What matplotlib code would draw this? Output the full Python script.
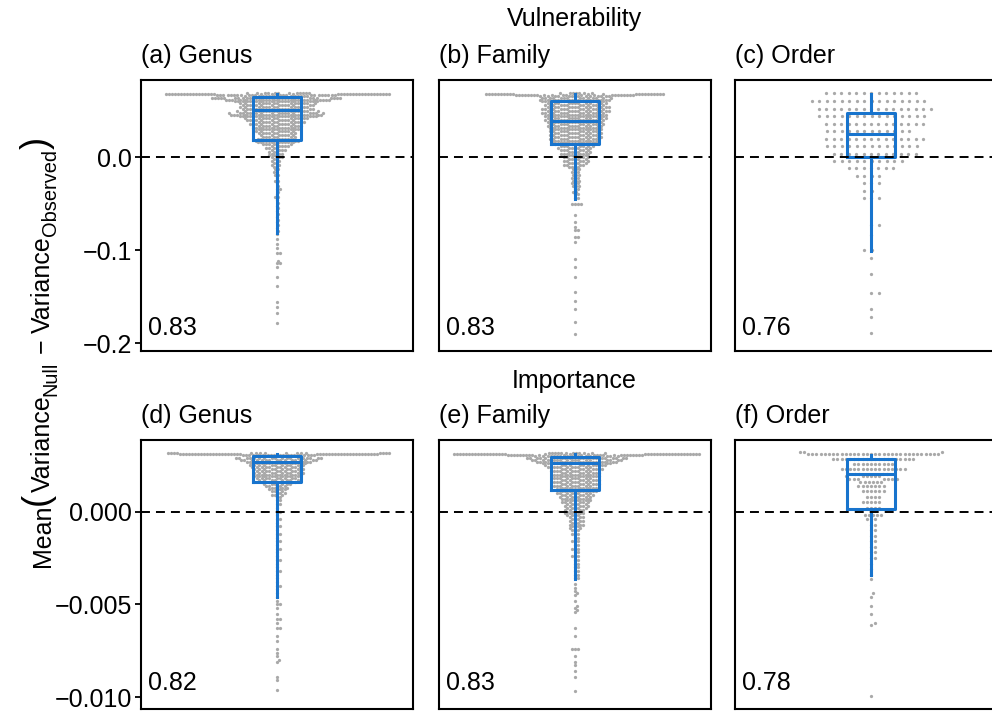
import numpy as np
import matplotlib
matplotlib.use("Agg")
import matplotlib.pyplot as plt

# values: each level value with the number of
# points drawn at (roughly) that level
gen_vul_vals = [0.069, 0.068, 0.067, 0.066, 0.064, 0.062, 0.060, 0.058, 0.056, 0.054,
                0.052, 0.050, 0.048, 0.046, 0.044, 0.042, 0.040, 0.038, 0.036, 0.034,
                0.032, 0.030, 0.028, 0.026, 0.024, 0.022, 0.020, 0.018, 0.016, 0.014,
                0.012, 0.010, 0.008, 0.006, 0.004, 0.002, 0.000, -0.002, -0.004, -0.006,
                -0.008, -0.010, -0.013, -0.016, -0.019, -0.022, -0.025, -0.028, -0.031, -0.034,
                -0.037, -0.040, -0.043, -0.046, -0.049, -0.052, -0.055, -0.058, -0.061, -0.064,
                -0.067, -0.070, -0.073, -0.076, -0.079, -0.082, -0.0875, -0.093, -0.098, -0.103,
                -0.111, -0.114, -0.118, -0.129, -0.138, -0.156, -0.161, -0.167, -0.178]
gen_vul_n = [12, 38, 22, 13, 26, 22, 17, 15, 14, 14,
             14, 15, 18, 18, 16, 13, 11, 11, 10, 10,
             9, 9, 8, 8, 7, 7, 8, 9, 8, 6,
             5, 4, 4, 3, 3, 3, 3, 2, 2, 2,
             2, 2, 2, 2, 2, 1, 2, 1, 1, 2,
             1, 1, 2, 1, 1, 1, 1, 1, 1, 1,
             1, 1, 1, 1, 1, 1, 1, 1, 1, 2,
             1, 2, 1, 1, 1, 1, 1, 1, 1]

fam_vul_vals = [0.069, 0.068, 0.067, 0.066, 0.064, 0.062, 0.060, 0.058, 0.056, 0.054,
                0.052, 0.050, 0.048, 0.046, 0.044, 0.042, 0.040, 0.038, 0.036, 0.034,
                0.032, 0.030, 0.028, 0.026, 0.024, 0.022, 0.020, 0.018, 0.016, 0.014,
                0.012, 0.010, 0.008, 0.006, 0.004, 0.002, 0.000, -0.002, -0.004, -0.006,
                -0.008, -0.010, -0.013, -0.016, -0.019, -0.022, -0.025, -0.028, -0.031, -0.034,
                -0.037, -0.040, -0.044, -0.0505, -0.0624, -0.0695, -0.0749, -0.0785, -0.0857, -0.091,
                -0.109, -0.118, -0.129, -0.145, -0.154, -0.163, -0.177, -0.190]
fam_vul_n = [7, 22, 22, 14, 14, 14, 13, 12, 12, 13,
             13, 13, 13, 12, 12, 12, 12, 11, 11, 11,
             10, 10, 10, 10, 10, 10, 10, 9, 9, 8,
             7, 7, 6, 6, 6, 5, 5, 5, 5, 5,
             4, 4, 3, 3, 3, 3, 3, 3, 3, 2,
             2, 2, 2, 4, 1, 1, 1, 2, 2, 1,
             1, 1, 1, 1, 1, 1, 1, 1]

ord_vul_vals = [0.069, 0.060, 0.052, 0.044, 0.036, 0.028, 0.020, 0.012, 0.004, -0.004,
                -0.012, -0.020, -0.028, -0.036, -0.044, -0.0731, -0.0839, -0.100, -0.108, -0.126,
                -0.146, -0.163, -0.172, -0.189]
ord_vul_n = [13, 16, 16, 15, 14, 12, 14, 13, 12, 10,
             7, 4, 3, 2, 3, 2, 1, 2, 1, 1,
             2, 1, 1, 1]

gen_imp_vals = [0.00315, 0.0031, 0.00305, 0.0029, 0.0028, 0.0027, 0.0026, 0.0025, 0.0024, 0.0023,
                0.0022, 0.0021, 0.0020, 0.0019, 0.0018, 0.0017, 0.0016, 0.0015, 0.0014, 0.0013,
                0.0012, 0.0011, 0.0010, 0.0009, 0.0008, 0.0006, 0.0004, 0.0002, 0.0000, -0.0002,
                -0.0004, -0.0006, -0.0008, -0.0010, -0.0012, -0.0014, -0.0016, -0.0018, -0.0020, -0.0022,
                -0.0024, -0.0026, -0.0028, -0.0030, -0.0032, -0.0034, -0.0036, -0.0038, -0.0040, -0.0042,
                -0.0044, -0.0046, -0.0048, -0.0050, -0.0052, -0.0055, -0.0058, -0.0060, -0.0063, -0.0067,
                -0.0070, -0.0074, -0.0076, -0.0078, -0.0080, -0.0081, -0.0089, -0.0091, -0.0096]
gen_imp_n = [16, 42, 20, 18, 16, 14, 12, 11, 11, 10,
             10, 10, 10, 9, 9, 8, 8, 6, 5, 4,
             4, 3, 3, 3, 2, 2, 2, 1, 2, 1,
             2, 1, 2, 1, 2, 1, 2, 1, 2, 1,
             1, 2, 1, 1, 2, 1, 1, 1, 2, 1,
             1, 1, 1, 2, 1, 1, 2, 1, 2, 1,
             1, 1, 1, 1, 1, 1, 1, 1, 1]

fam_imp_vals = [0.00315, 0.0031, 0.00305, 0.0030, 0.0029, 0.0028, 0.0027, 0.0026, 0.0025, 0.0024,
                0.0023, 0.0022, 0.0021, 0.0020, 0.0019, 0.0018, 0.0017, 0.0016, 0.0015, 0.0014,
                0.0013, 0.0012, 0.0011, 0.0010, 0.0009, 0.0008, 0.0007, 0.0006, 0.0005, 0.0004,
                0.0003, 0.0002, 0.0001, 0.0000, -0.0001, -0.0002, -0.0003, -0.0004, -0.0005, -0.0006,
                -0.0007, -0.0008, -0.0009, -0.0010, -0.0012, -0.0014, -0.0016, -0.0018, -0.0020, -0.0022,
                -0.0024, -0.0026, -0.0028, -0.0030, -0.0032, -0.0034, -0.0036, -0.0039, -0.0041, -0.0043,
                -0.0044, -0.0045, -0.0048, -0.0051, -0.0052, -0.0053, -0.0054, -0.0063, -0.0067, -0.0074,
                -0.0078, -0.0081, -0.0083, -0.0086, -0.0089, -0.0097]
fam_imp_n = [12, 40, 25, 16, 20, 18, 16, 14, 12, 11,
             10, 10, 9, 9, 9, 9, 9, 9, 9, 9,
             8, 8, 8, 8, 7, 7, 6, 6, 6, 5,
             5, 5, 4, 4, 4, 4, 3, 3, 3, 3,
             3, 3, 2, 3, 3, 2, 3, 2, 3, 2,
             3, 2, 2, 2, 2, 2, 2, 1, 1, 1,
             1, 1, 1, 1, 1, 1, 1, 1, 1, 3,
             1, 1, 1, 1, 1, 1]

ord_imp_vals = [0.0032, 0.00308, 0.00283, 0.00256, 0.0023, 0.00205, 0.0019, 0.00178, 0.0016, 0.0014,
                0.0011, 0.0008, 0.0005, 0.0002, -0.0002, -0.0004, -0.0007, -0.0010, -0.0013, -0.0016,
                -0.0019, -0.0022, -0.0025, -0.0028, -0.0031, -0.0034, -0.00364, -0.0044, -0.0046, -0.0051,
                -0.0055, -0.0060, -0.0061, -0.00994]
ord_imp_n = [3, 32, 20, 10, 16, 4, 6, 7, 6, 7,
             6, 4, 5, 4, 5, 3, 2, 2, 2, 2,
             2, 2, 2, 1, 1, 1, 1, 1, 1, 1,
             1, 1, 1, 1]

# box statistics: whisker high, q3, median, q1, whisker low
gen_vul_box = [0.0677, 0.0648, 0.0513, 0.0183, -0.0814]
fam_vul_box = [0.0677, 0.0605, 0.0387, 0.0140, -0.0444]
ord_vul_box = [0.0677, 0.0476, 0.0255, 0.0003, -0.1010]
gen_imp_box = [0.0031, 0.00300, 0.00265, 0.00159, -0.00462]
fam_imp_box = [0.0031, 0.00297, 0.00260, 0.00118, -0.00364]
ord_imp_box = [0.00306, 0.00283, 0.00203, 0.00013, -0.00341]

titles = ["(a) Genus", "(b) Family", "(c) Order", "(d) Genus", "(e) Family", "(f) Order"]
scores = ["0.83", "0.83", "0.76", "0.82", "0.83", "0.78"]

panels = [
    (gen_vul_vals, gen_vul_n, gen_vul_box, 3.0),
    (fam_vul_vals, fam_vul_n, fam_vul_box, 3.0),
    (ord_vul_vals, ord_vul_n, ord_vul_box, 7.5),
    (gen_imp_vals, gen_imp_n, gen_imp_box, 3.0),
    (fam_imp_vals, fam_imp_n, fam_imp_box, 3.0),
    (ord_imp_vals, ord_imp_n, ord_imp_box, 4.2),
]


def swarm(ypx, d):
    # simple beeswarm: place each point (sorted by value) at the offset
    # nearest the centre that does not overlap already placed points
    order = np.argsort(ypx, kind="stable")
    xs = np.zeros(len(ypx))
    py = np.empty(0)
    px = np.empty(0)
    for i in order:
        y = ypx[i]
        m = np.abs(py - y) < d
        if not m.any():
            x = 0.0
        else:
            ny, nx = py[m], px[m]
            dy = ny - y
            dx = np.sqrt(d * d - dy * dy)
            cand = np.concatenate([[0.0], nx + dx, nx - dx])
            ok = ((cand[:, None] - nx[None, :]) ** 2 + dy[None, :] ** 2
                  >= d * d - 1e-6).all(axis=1)
            cand = cand[ok]
            x = cand[np.argmin(np.abs(cand))]
        xs[i] = x
        py = np.append(py, y)
        px = np.append(px, x)
    return xs


plt.rcParams["font.family"] = ["Liberation Sans", "DejaVu Sans"]
FS = 18
BLUE = "#1874CD"
GREY = "#A9A9A9"

W, H = 992, 711
fig = plt.figure(figsize=(W / 100, H / 100), dpi=100)

col_left = [141, 439, 735]
row_span = [(80, 351), (440, 709)]
ylims = [(-0.2083, 0.0831), (-0.010647, 0.003862)]
yticks = [[0.0, -0.1, -0.2], [0.0, -0.005, -0.010]]
yticklabels = [["0.0", "\u22120.1", "\u22120.2"], ["0.000", "\u22120.005", "\u22120.010"]]
score_y = [0.06, 0.07]
axw = 272

for k, (vals, counts, box, d) in enumerate(panels):
    row, col = divmod(k, 3)
    top, bot = row_span[row]
    ax = fig.add_axes([col_left[col] / W, 1 - bot / H, axw / W, (bot - top) / H])
    ylo, yhi = ylims[row]
    y = np.repeat(np.array(vals, dtype=float), counts)
    ypx = (y - ylo) / (yhi - ylo) * (bot - top)
    xs = swarm(ypx, d) / (axw / 2)
    ax.scatter(xs, y, s=5.5, c=GREY, linewidths=0, zorder=2)

    stats = [dict(whishi=box[0], q3=box[1], med=box[2], q1=box[3], whislo=box[4], fliers=[])]
    lp = dict(color=BLUE, linewidth=2.2)
    ax.bxp(stats, positions=[0], widths=0.353, showcaps=False, showfliers=False,
           boxprops=lp, whiskerprops=lp, medianprops=lp, zorder=3)

    ax.axhline(0, color="black", linewidth=1.4, linestyle=(0, (4.6, 3.1)), zorder=4)
    ax.set_xlim(-1, 1)
    ax.set_ylim(ylo, yhi)
    ax.set_xticks([])
    for sp in ax.spines.values():
        sp.set_linewidth(1.5)
    if col == 0:
        ax.set_yticks(yticks[row])
        ax.set_yticklabels(yticklabels[row])
        ax.tick_params(axis="y", length=4.5, width=1.3, pad=2, labelsize=FS)
    else:
        ax.set_yticks([])
    ax.set_title(titles[k], loc="left", fontsize=FS, pad=12.5)
    ax.text(0.026, score_y[row], scores[k], transform=ax.transAxes,
            fontsize=FS, va="baseline", ha="left")

fig.text(574 / W, 1 - 26 / H, "Vulnerability", ha="center", va="baseline", fontsize=FS)
fig.text(574 / W, 1 - 388 / H, "Importance", ha="center", va="baseline", fontsize=FS)

# y label built from pieces (rotated, read bottom to top) so the parentheses
# can be drawn taller and the subscripts a bit larger than mathtext does
FP = FS * 1.45
FSUB = FS * 0.8
base_x = 50
pieces = [("Mean", FS, base_x),
          ("(", FP, base_x - 3),
          ("Variance", FS, base_x),
          ("Null", FSUB, base_x + 6),
          (" \u2212 ", FS, base_x),
          ("Variance", FS, base_x),
          ("Observed", FSUB, base_x + 6),
          (")", FP, base_x - 3)]
rend = fig.canvas.get_renderer()
texts = []
for s, f, bx in pieces:
    t = fig.text(bx / W, 0, s, fontsize=f, rotation=90, rotation_mode="anchor",
                 ha="left", va="baseline")
    texts.append(t)
lens = [t.get_window_extent(rend).height for t in texts]
ypos = (H - 352) - sum(lens) / 2
for t, (s, f, bx), L in zip(texts, pieces, lens):
    t.set_position((bx / W, ypos / H))
    ypos += L

fig.savefig("out.png", dpi=100)
